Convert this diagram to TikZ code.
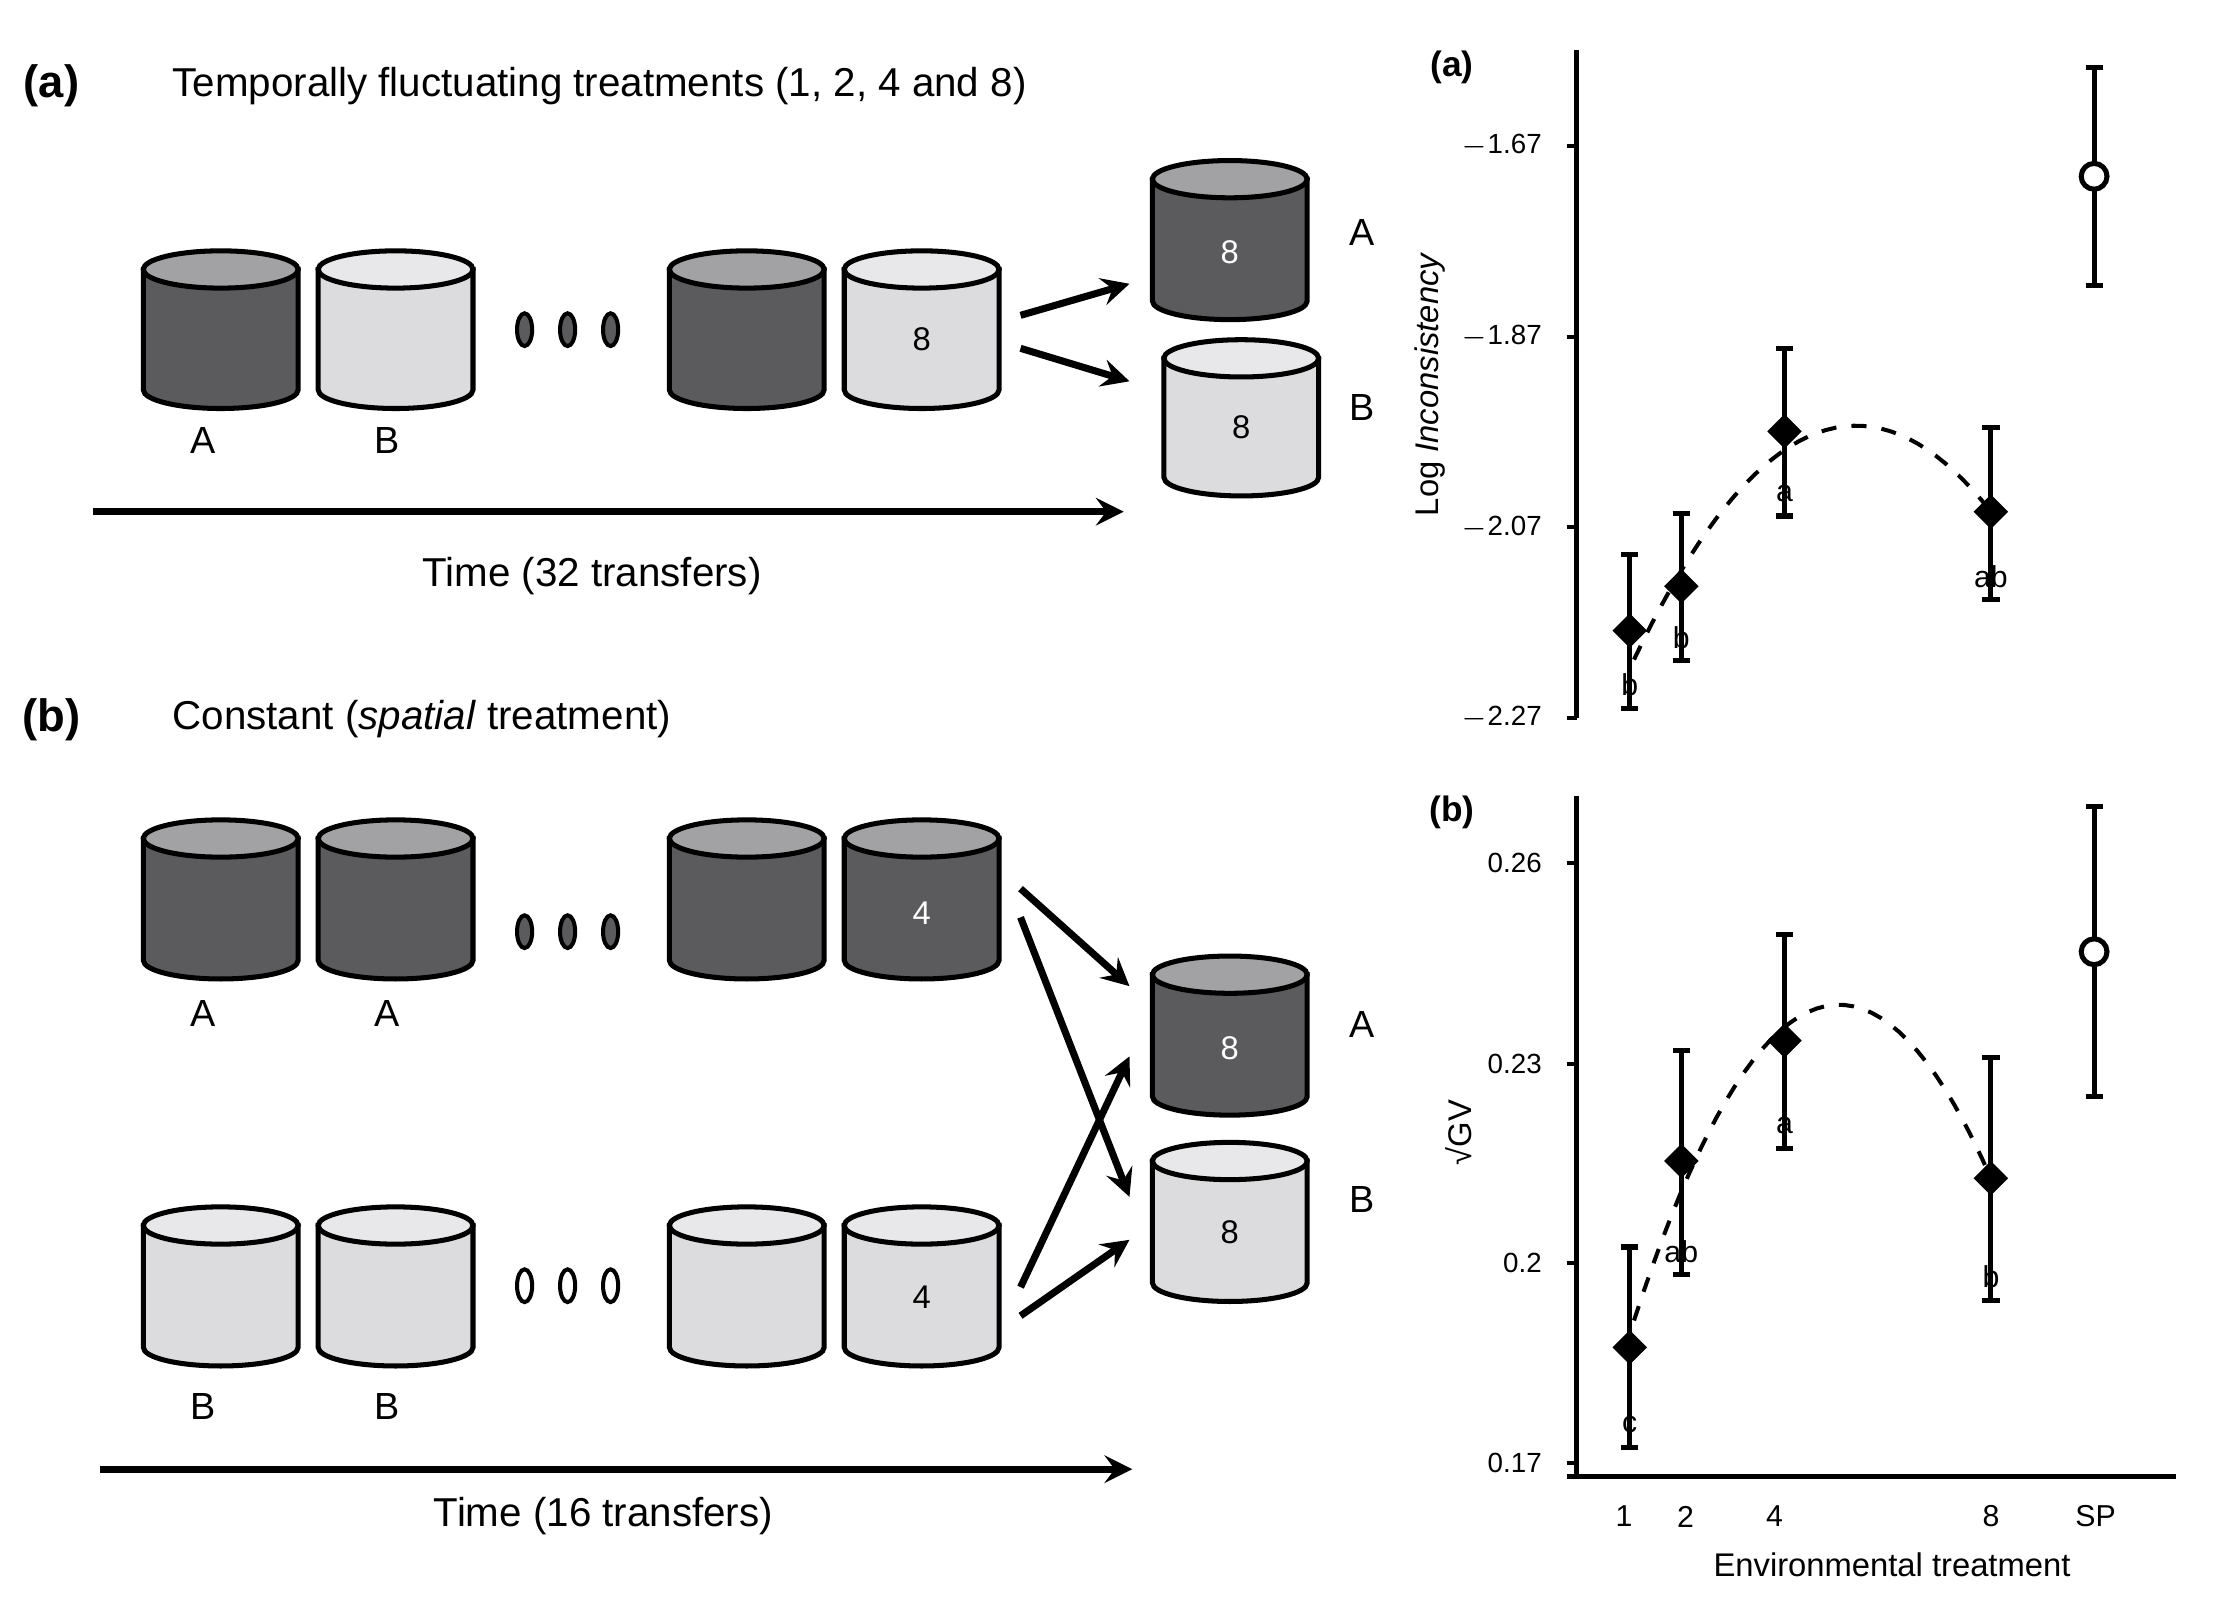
\documentclass[tikz,border=0pt]{standalone}
\usepackage{fontspec}
\setmainfont{Liberation Sans}
\usetikzlibrary{arrows, shapes.geometric}
\definecolor{darkvat}{HTML}{5B5B5D}
\definecolor{darktop}{HTML}{A2A2A4}
\definecolor{lightvat}{HTML}{DCDCDE}
\definecolor{lighttop}{HTML}{E8E8EA}
% vat: x, top y, bottom y, body colour, top colour
\newcommand\vat[5]{%
  \filldraw[fill=#4,line width=1pt] (#1-54,-#2) -- (#1-54,-#3)
    arc[start angle=180,end angle=360,x radius=54,y radius=13] -- (#1+54,-#2) -- cycle;
  \filldraw[fill=#5,line width=1pt] (#1,-#2) ellipse[x radius=54,y radius=13];}
\newcommand\pt[5]{% x, y, err low, err high, letter
  \draw[line width=1pt] (#1,-#3) -- (#1,-#4) (#1-6,-#3) -- (#1+6,-#3) (#1-6,-#4) -- (#1+6,-#4);
  \node[diam] at (#1,-#2) {};
  \node[font=\fontsize{6}{7}\selectfont] at (#1,-#4+16) {#5};}
\begin{document}
\begin{tikzpicture}[
            x = 0.01cm, y = 0.01cm,
            > = stealth,
            flow/.style = {->, line width=1.4pt},
            lbl/.style = {font=\fontsize{7.5}{9}\selectfont},
            num/.style = {font=\fontsize{6.5}{8}\selectfont},
            tick/.style = {font=\fontsize{5.5}{7}\selectfont, anchor=east},
            diam/.style = {diamond, fill=black, inner sep=0pt, minimum size=7pt},
            dot/.style = {draw, line width=0.8pt, ellipse, minimum width=3pt, minimum height=6.5pt, inner sep=0pt}
        ]
        \useasboundingbox (0,0) rectangle (1560,-1130);
        % panel (a)
        \node[font=\bfseries\fontsize{9}{11}\selectfont] (ha) at (36,-60) {(a)};
        \node[anchor=west, font=\fontsize{8}{10}\selectfont] (ta) at (108,-60) {Temporally fluctuating treatments (1, 2, 4 and 8)};
        \vat{154}{188}{272}{darkvat}{darktop}
        \vat{276}{188}{272}{lightvat}{lighttop}
        \vat{521}{188}{272}{darkvat}{darktop}
        \vat{643}{188}{272}{lightvat}{lighttop}
        \vat{858}{125}{210}{darkvat}{darktop}
        \vat{866}{250}{333}{lightvat}{lighttop}
        \node[num] at (643,-237) {8};
        \node[num, white] at (858,-176) {8};
        \node[num] at (866,-298) {8};
        \foreach \x in {366,396,426} \node[dot, fill=darkvat] at (\x,-230) {};
        \node[lbl] (a1) at (142,-307) {A};
        \node[lbl] (a2) at (270,-307) {B};
        \node[lbl] (oa) at (950,-162) {A};
        \node[lbl] (ob) at (950,-284) {B};
        \coordinate (s1) at (712,-220); \coordinate (e1) at (788,-198);
        \coordinate (s2) at (712,-243); \coordinate (e2) at (788,-266);
        \draw[flow] (s1) -- (e1);
        \draw[flow] (s2) -- (e2);
        \coordinate (t0) at (65,-357); \coordinate (t1) at (784,-357);
        \draw[flow] (t0) -- (t1);
        \node[font=\fontsize{8}{10}\selectfont] (tt) at (413,-402) {Time (32 transfers)};
        % panel (b)
        \node[font=\bfseries\fontsize{9}{11}\selectfont] (hb) at (36,-502) {(b)};
        \node[anchor=west, font=\fontsize{8}{10}\selectfont] (tb) at (108,-502) {Constant (\textit{spatial} treatment)};
        \foreach \x in {154,276,521,643} {\vat{\x}{585}{670}{darkvat}{darktop}}
        \foreach \x in {154,276,521,643} {\vat{\x}{855}{940}{lightvat}{lighttop}}
        \vat{858}{680}{765}{darkvat}{darktop}
        \vat{858}{810}{895}{lightvat}{lighttop}
        \node[num, white] at (643,-637) {4};
        \node[num] at (643,-905) {4};
        \node[num, white] at (858,-731) {8};
        \node[num] at (858,-860) {8};
        \foreach \x in {366,396,426} \node[dot, fill=darkvat] at (\x,-650) {};
        \foreach \x in {366,396,426} \node[dot, fill=white] at (\x,-897) {};
        \node[lbl] at (142,-707) {A};
        \node[lbl] at (270,-707) {A};
        \node[lbl] at (142,-981) {B};
        \node[lbl] at (270,-981) {B};
        \node[lbl] at (950,-715) {A};
        \node[lbl] at (950,-837) {B};
        \coordinate (u1) at (712,-620); \coordinate (v1) at (788,-688);
        \coordinate (u2) at (712,-640); \coordinate (v2) at (788,-835);
        \coordinate (u3) at (712,-898); \coordinate (v3) at (788,-737);
        \coordinate (u4) at (712,-918); \coordinate (v4) at (788,-865);
        \foreach \i in {1,...,4} \draw[flow] (u\i) -- (v\i);
        \coordinate (w0) at (70,-1025); \coordinate (w1) at (790,-1025);
        \draw[flow] (w0) -- (w1);
        \node[font=\fontsize{8}{10}\selectfont] at (421,-1058) {Time (16 transfers)};
        % plot (a)
        \draw[line width=1pt] (1100,-35) -- (1100,-501);
        \foreach \y/\t in {102/{$-$1.67},235/{$-$1.87},368/{$-$2.07},501/{$-$2.27}} {
          \draw[line width=0.8pt] (1093,-\y) -- (1100,-\y);
          \node[tick] at (1088,-\y) {\t};}
        \node[font=\bfseries\fontsize{7}{8}\selectfont] at (1013,-47) {(a)};
        \node[rotate=90, font=\fontsize{6.5}{8}\selectfont] at (998,-268) {Log \textit{Inconsistency}};
        \draw[dashed, line width=0.8pt] plot[domain=1140:1389, samples=40] (\x,{-(297+67.9*((\x-1295)/100)^2)});
        \pt{1137}{440}{387}{494}{b}
        \pt{1173}{409}{358}{461}{b}
        \pt{1245}{301}{243}{360}{a}
        \pt{1389}{357}{298}{418}{ab}
        \draw[line width=1pt] (1461,-47) -- (1461,-199) (1455,-47) -- (1467,-47) (1455,-199) -- (1467,-199);
        \filldraw[fill=white, line width=1pt] (1461,-123) circle[radius=9];
        % plot (b)
        \draw[line width=1pt] (1100,-555) -- (1100,-1030) (1093,-1030) -- (1518,-1030);
        \foreach \y/\t in {602/0.26,742/0.23,881/0.2,1021/0.17} {
          \draw[line width=0.8pt] (1093,-\y) -- (1100,-\y);
          \node[tick] at (1088,-\y) {\t};}
        \foreach \x/\t in {1133/1,1176/2,1238/4,1389/8,1462/SP}
          \node[font=\fontsize{6}{7}\selectfont] at (\x,-1058) {\t};
        \node[font=\fontsize{6.5}{8}\selectfont] at (1320,-1092) {Environmental treatment};
        \node[font=\bfseries\fontsize{7}{8}\selectfont] at (1013,-567) {(b)};
        \node[rotate=90, font=\fontsize{6.5}{8}\selectfont] at (1018,-790) {√GV};
        \draw[dashed, line width=0.8pt] plot[domain=1140:1389, samples=40] (\x,{-(701+107.7*((\x-1283)/100)^2)});
        \pt{1137}{940}{870}{1010}{c}
        \pt{1173}{810}{733}{889}{ab}
        \pt{1245}{726}{652}{801}{a}
        \pt{1389}{822}{738}{907}{b}
        \draw[line width=1pt] (1461,-563) -- (1461,-765) (1455,-563) -- (1467,-563) (1455,-765) -- (1467,-765);
        \filldraw[fill=white, line width=1pt] (1461,-664) circle[radius=9];
\end{tikzpicture}
\end{document}
